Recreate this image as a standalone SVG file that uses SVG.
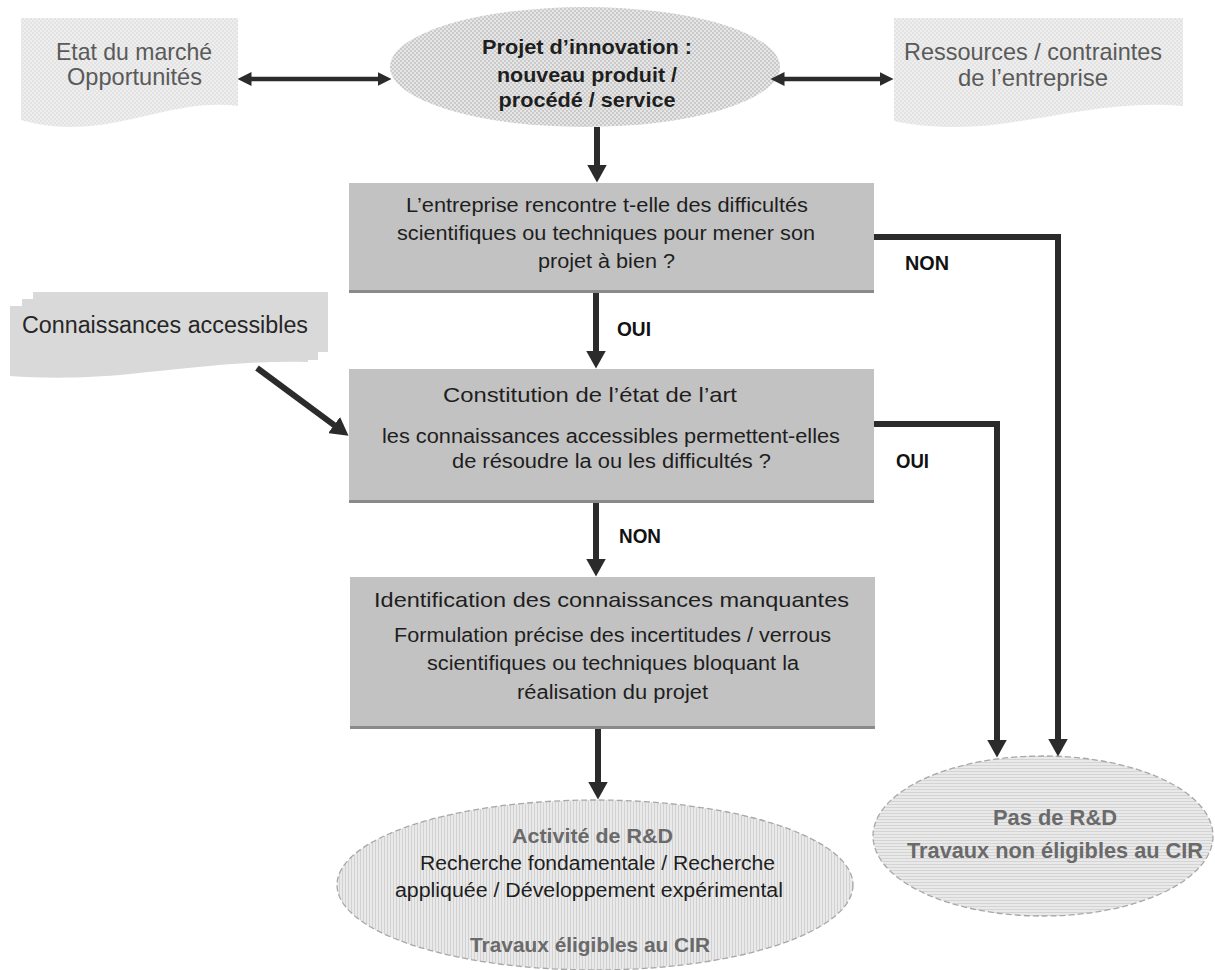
<svg xmlns="http://www.w3.org/2000/svg" width="1215" height="970" viewBox="0 0 1215 970">
<defs>
<style>
text{font-family:"Liberation Sans",Arial,sans-serif;text-anchor:middle}
.t{font-size:20px;fill:#1e1e1e}
.b{font-size:21px;font-weight:bold;fill:#1e1e1e}
.g{font-size:22px;font-weight:bold;fill:#6a6a6a}
.side{font-size:24px;fill:#5a5a5a}
.lbl{font-size:20px;font-weight:bold;fill:#111;text-anchor:start}
.box{fill:#c2c2c2}
.edge{stroke:#8a8a8a;stroke-width:3}
.con{fill:none;stroke:#2b2b2b;stroke-width:6}
.dbl{fill:none;stroke:#2b2b2b;stroke-width:4.5}
.dash{stroke:#a8a8a8;stroke-width:1.3;stroke-dasharray:6 3}
</style>
<pattern id="dotsP" width="4" height="4" patternUnits="userSpaceOnUse">
<rect width="4" height="4" fill="#e6e6e6"/>
<circle cx="1" cy="1" r="0.9" fill="#bcbcbc"/>
<circle cx="3" cy="3" r="0.9" fill="#bcbcbc"/>
</pattern>
<pattern id="dotsL" width="4" height="4" patternUnits="userSpaceOnUse">
<rect width="4" height="4" fill="#eeeeee"/>
<circle cx="1" cy="1" r="0.8" fill="#d6d6d6"/>
<circle cx="3" cy="3" r="0.8" fill="#d6d6d6"/>
</pattern>
<pattern id="vstripe" width="3" height="3" patternUnits="userSpaceOnUse">
<rect width="3" height="3" fill="#e9e9e9"/>
<rect width="1" height="3" fill="#d2d2d2"/>
</pattern>
<pattern id="hstripe" width="3" height="3" patternUnits="userSpaceOnUse">
<rect width="3" height="3" fill="#e9e9e9"/>
<rect width="3" height="1" fill="#d4d4d4"/>
</pattern>
<marker id="ah" viewBox="0 0 18 20" markerWidth="18" markerHeight="20" refX="0.5" refY="10" orient="auto-start-reverse" markerUnits="userSpaceOnUse">
<path d="M0,0 L18,10 L0,20 Z" fill="#2b2b2b"/>
</marker>
<marker id="ah2" viewBox="0 0 14 14" markerWidth="14" markerHeight="14" refX="0.5" refY="7" orient="auto-start-reverse" markerUnits="userSpaceOnUse">
<path d="M0,0 L14,7 L0,14 Z" fill="#2b2b2b"/>
</marker>
</defs>
<rect width="1215" height="970" fill="#ffffff"/>

<g id="etat-marche">
<path d="M21 18 H238 V106 C190 100 150 118 100 125 C60 130 35 124 21 120 Z" fill="url(#dotsL)"/>
<text class="side" x="134" y="60" textLength="156" lengthAdjust="spacingAndGlyphs">Etat du marché</text>
<text class="side" x="134.5" y="85" textLength="135" lengthAdjust="spacingAndGlyphs">Opportunités</text>
</g>

<g id="projet">
<ellipse cx="585" cy="67" rx="195" ry="60" fill="url(#dotsP)"/>
<text class="b" x="587" y="54" textLength="210" lengthAdjust="spacingAndGlyphs">Projet d’innovation :</text>
<text class="b" x="587" y="82" textLength="180" lengthAdjust="spacingAndGlyphs">nouveau produit /</text>
<text class="b" x="587" y="107" textLength="177" lengthAdjust="spacingAndGlyphs">procédé / service</text>
</g>

<g id="ressources">
<path d="M894 18 H1183 V106 C1120 100 1060 116 1000 124 C955 130 915 126 894 121 Z" fill="url(#dotsL)"/>
<text class="side" x="1033" y="60" textLength="258" lengthAdjust="spacingAndGlyphs">Ressources / contraintes</text>
<text class="side" x="1033" y="86" textLength="150" lengthAdjust="spacingAndGlyphs">de l’entreprise</text>
</g>

<g id="difficultes">
<rect class="box" x="349" y="183" width="525" height="110"/>
<line class="edge" x1="349" y1="291.5" x2="874" y2="291.5"/>
<text class="t" x="607" y="212" textLength="402" lengthAdjust="spacingAndGlyphs">L’entreprise rencontre t-elle des difficultés</text>
<text class="t" x="606" y="240" textLength="418" lengthAdjust="spacingAndGlyphs">scientifiques ou techniques pour mener son</text>
<text class="t" x="606.5" y="268" textLength="137" lengthAdjust="spacingAndGlyphs">projet à bien ?</text>
</g>

<g id="connaissances">
<path d="M33 292 H328 V352 H33 Z" fill="#d9d9d9"/>
<path d="M22 299 H318 V360 H22 Z" fill="#d9d9d9"/>
<path d="M10 306 H308 V362 C250 360 190 368 130 374 C80 379 40 378 10 376 Z" fill="#d9d9d9"/>
<text x="165" y="333" style="font-size:23px;fill:#262626" textLength="286" lengthAdjust="spacingAndGlyphs">Connaissances accessibles</text>
</g>

<g id="etat-art">
<rect class="box" x="349" y="369" width="525" height="134"/>
<line class="edge" x1="349" y1="501.5" x2="874" y2="501.5"/>
<text class="t" x="590" y="402" style="font-size:21px" textLength="294" lengthAdjust="spacingAndGlyphs">Constitution de l’état de l’art</text>
<text class="t" x="611" y="443" textLength="458" lengthAdjust="spacingAndGlyphs">les connaissances accessibles permettent-elles</text>
<text class="t" x="611.5" y="468" textLength="319" lengthAdjust="spacingAndGlyphs">de résoudre la ou les difficultés ?</text>
</g>

<g id="identification">
<rect class="box" x="350" y="577" width="525" height="152"/>
<line class="edge" x1="350" y1="727.5" x2="875" y2="727.5"/>
<text class="t" x="611.5" y="607" style="font-size:21px" textLength="475" lengthAdjust="spacingAndGlyphs">Identification des connaissances manquantes</text>
<text class="t" x="612.5" y="642" textLength="437" lengthAdjust="spacingAndGlyphs">Formulation précise des incertitudes / verrous</text>
<text class="t" x="613" y="670" textLength="372" lengthAdjust="spacingAndGlyphs">scientifiques ou techniques bloquant la</text>
<text class="t" x="612.5" y="699" textLength="191" lengthAdjust="spacingAndGlyphs">réalisation du projet</text>
</g>

<g id="activite-rd">
<ellipse class="dash" cx="595" cy="885" rx="258" ry="85" fill="url(#vstripe)"/>
<text class="g" x="592.5" y="843" style="font-size:21px" textLength="161" lengthAdjust="spacingAndGlyphs">Activité de R&amp;D</text>
<text class="t" x="597.5" y="870" textLength="355" lengthAdjust="spacingAndGlyphs">Recherche fondamentale / Recherche</text>
<text class="t" x="589" y="897" textLength="388" lengthAdjust="spacingAndGlyphs">appliquée / Développement expérimental</text>
<text class="g" x="590" y="952" style="font-size:21px" textLength="240" lengthAdjust="spacingAndGlyphs">Travaux éligibles au CIR</text>
</g>

<g id="pas-rd">
<ellipse class="dash" cx="1043" cy="836" rx="170" ry="80" fill="url(#hstripe)"/>
<text class="g" x="1055" y="825" textLength="124" lengthAdjust="spacingAndGlyphs">Pas de R&amp;D</text>
<text class="g" x="1055" y="858" textLength="296" lengthAdjust="spacingAndGlyphs">Travaux non éligibles au CIR</text>
</g>

<g id="connectors">
<path class="dbl" d="M251 79 H378" marker-start="url(#ah2)" marker-end="url(#ah2)"/>
<path class="dbl" d="M784 79 H880" marker-start="url(#ah2)" marker-end="url(#ah2)"/>
<path class="con" d="M597 127 V165" marker-end="url(#ah)"/>
<path class="con" d="M596 293 V351" marker-end="url(#ah)"/>
<path class="con" d="M596 503 V559" marker-end="url(#ah)"/>
<path class="con" d="M598 729 V782" marker-end="url(#ah)"/>
<path class="con" d="M874 237 H1058 V739" marker-end="url(#ah)"/>
<path class="con" d="M874 424 H997 V740" marker-end="url(#ah)"/>
<path class="con" d="M257 368 L334.5 425.3" marker-end="url(#ah)"/>
<text class="lbl" x="905" y="270" textLength="44" lengthAdjust="spacingAndGlyphs">NON</text>
<text class="lbl" x="617" y="336" textLength="34" lengthAdjust="spacingAndGlyphs">OUI</text>
<text class="lbl" x="896" y="468" textLength="33" lengthAdjust="spacingAndGlyphs">OUI</text>
<text class="lbl" x="619" y="543" textLength="42" lengthAdjust="spacingAndGlyphs">NON</text>
</g>
</svg>
